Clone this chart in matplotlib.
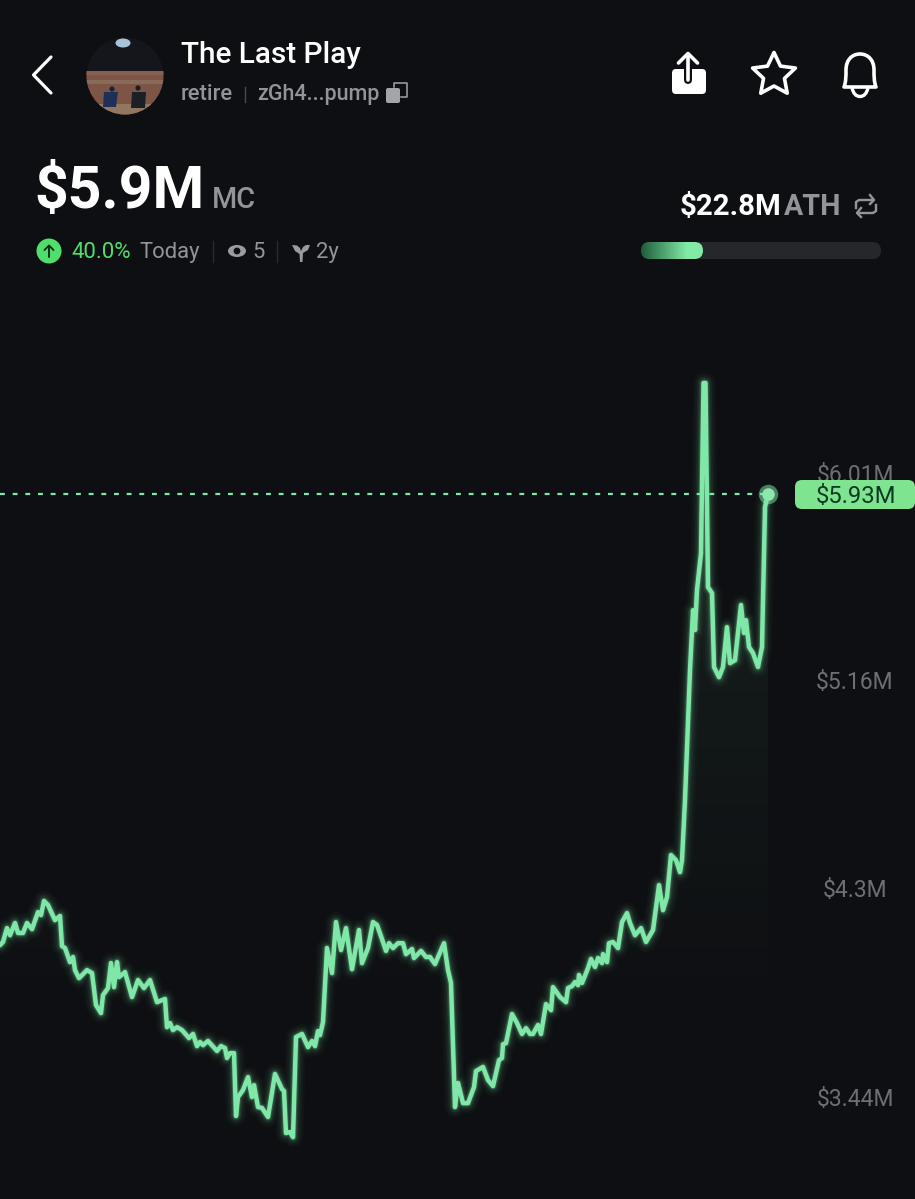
import numpy as np
import matplotlib
matplotlib.use("Agg")
import matplotlib.pyplot as plt
from matplotlib.patches import Circle, FancyBboxPatch, Rectangle, Ellipse, PathPatch, Polygon
from matplotlib.path import Path

plt.rcParams['font.family'] = ['Roboto', 'DejaVu Sans']

# ---------- data ----------
steps = [0,3,7,10,15,18,23,27,32,38,41,44,48,55,60,62,65,70,73,75,79,87,92,96,101,103,108,111,114,117,119,125,
         132,138,144,150,157,165,167,170,173,177,182,189,193,197,200,203,208,217,221,225,227,230,234,236,238,
         243,248,252,254,258,262,268,275,282,284,286,290,293,296,302,308,312,315,318,320,323,327,332,336,341,
         346,352,359,362,368,373,377,382,386,389,393,398,403,406,412,414,421,426,430,435,444,448,451,455,458,
         463,468,474,476,483,488,493,499,502,503,506,512,517,522,526,530,533,538,541,546,551,553,560,566,568,
         572,575,578,579,582,588,591,595,598,602,603,607,609,613,618,622,627,630,635,641,646,653,659,663,667,
         671,676,680,682,685,689,690,693,695,697,701,703.5,705.5,708,712,714,719,723,727,730,735,741,744,746,749,
         753,758,762,765,768]
market_cap = [4.066,4.079,4.136,4.107,4.157,4.116,4.116,4.157,4.132,4.202,4.190,4.248,4.231,4.169,4.186,4.062,
              4.054,3.996,4.017,3.963,3.930,3.963,3.951,3.819,3.786,3.860,3.889,3.992,3.893,3.996,3.934,3.955,
              3.852,3.922,3.889,3.922,3.831,3.844,3.728,3.745,3.716,3.728,3.716,3.683,3.700,3.650,3.667,3.654,
              3.671,3.630,3.650,3.642,3.601,3.621,3.621,3.362,3.440,3.469,3.522,3.440,3.489,3.399,3.395,3.358,
              3.535,3.473,3.465,3.292,3.296,3.275,3.687,3.700,3.646,3.671,3.650,3.712,3.695,3.749,4.054,3.951,
              4.161,4.046,4.136,3.967,4.128,3.992,4.054,4.161,4.149,4.091,4.042,4.074,4.054,4.074,4.074,4.029,
              4.050,4.013,4.042,4.017,4.017,3.988,4.074,3.963,3.910,3.399,3.498,3.415,3.415,3.481,3.547,3.564,
              3.510,3.485,3.592,3.601,3.658,3.662,3.782,3.745,3.700,3.724,3.700,3.700,3.737,3.700,3.823,3.798,
              3.893,3.852,3.831,3.889,3.897,3.914,3.901,3.943,3.910,3.971,4.009,3.976,4.013,3.992,4.029,3.996,
              4.074,4.079,4.054,4.161,4.198,4.157,4.107,4.136,4.079,4.128,4.313,4.210,4.264,4.437,4.416,4.367,
              4.416,4.664,5.084,5.199,5.446,5.364,5.529,5.681,6.382,6.382,5.541,5.516,5.212,5.170,5.212,5.376,
              5.228,5.240,5.467,5.352,5.405,5.294,5.269,5.212,5.294,5.871,5.925]
tick_values = [6.01, 5.16, 4.30, 3.44]
tick_labels = ["$6.01M", "$5.16M", "$4.3M", "$3.44M"]
current_value = 5.925
current_label = "$5.93M"

BG = '#0E0F12'
GREEN = '#7FE8A8'
GREY = '#93939A'
TICK = '#6E6E75'

fig = plt.figure(figsize=(9.15, 11.99), dpi=100, facecolor=BG)

# ---------- chart ----------
ax = fig.add_axes([0, 0, 1, 1], facecolor=BG)
ax.set_xlim(0, 915)
ax.set_ylim(3.020, 7.960)
for s in ax.spines.values():
    s.set_visible(False)
ax.set_xticks([])
ax.set_yticks(tick_values)
ax.set_yticklabels(tick_labels)
ax.tick_params(axis='y', length=0, pad=-855 * 0.72, labelsize=16.5, labelcolor=TICK)
for lab in ax.get_yticklabels():
    lab.set_ha('center')

grad = np.zeros((256, 2, 4))
grad[..., 0] = 0.5; grad[..., 1] = 0.91; grad[..., 2] = 0.66
grad[..., 3] = np.clip(np.linspace(0.09, 0.0, 256), 0, 1)[:, None]
im = ax.imshow(grad, extent=[0, 915, 3.7, 6.4], aspect='auto', origin='upper', zorder=1)
area = ax.fill_between(steps, market_cap, 3.02, color='none', lw=0)
im.set_clip_path(area.get_paths()[0], transform=ax.transData)
ax.set_xlim(0, 915)
ax.set_ylim(3.020, 7.960)

ax.plot([0, 768], [current_value] * 2, color=GREEN, lw=1.6, dashes=(2.2, 3.5), zorder=2)
for w, a in [(15, 0.025), (12, 0.04), (9, 0.06), (6.5, 0.11), (4.6, 0.2)]:
    ax.plot(steps, market_cap, color=GREEN, lw=w, alpha=a, solid_joinstyle='round',
            solid_capstyle='round', zorder=3)
ax.plot(steps, market_cap, color=GREEN, lw=3.2, solid_joinstyle='round', solid_capstyle='round', zorder=4)
ax.plot([steps[-1]], [market_cap[-1]], 'o', ms=14, color=GREEN, alpha=0.5, mew=0, zorder=5)
ax.plot([steps[-1]], [market_cap[-1]], 'o', ms=9, color='#8CE8AC', mew=0, zorder=6)

# ---------- interface chrome, in pixel coordinates ----------
ui = fig.add_axes([0, 0, 1, 1], facecolor='none')
ui.set_xlim(0, 915)
ui.set_ylim(1199, 0)
ui.axis('off')
PX = 0.72


def T(x, y, s, size, color='white', weight='normal', ha='left', **kw):
    return ui.text(x, y, s, fontsize=size, color=color, fontweight=weight, ha=ha, va='baseline', **kw)


# price badge
ui.add_patch(FancyBboxPatch((795, 480), 120, 29, boxstyle='round,pad=0,rounding_size=7', lw=0, fc='#7FE490', zorder=6))
T(856, 503, current_label, 17.2, color='#0B3B22', ha='center', zorder=7)

# back chevron
ui.plot([51, 33.5, 51], [57, 75, 93], color='white', lw=3.2 * PX, solid_capstyle='round', solid_joinstyle='round')

# avatar
clip = Circle((125, 76), 38.5, transform=ui.transData)
def clipped(p):
    ui.add_patch(p)
    p.set_clip_path(clip)
clipped(Rectangle((85, 36), 80, 36, fc='#15161B', lw=0))
clipped(Rectangle((85, 71), 80, 44, fc='#7D5546', lw=0))
clipped(Rectangle((85, 71), 80, 4, fc='#86604E', lw=0))
clipped(Rectangle((85, 80), 80, 4, fc='#8A6A58', lw=0))
clipped(Rectangle((85, 104), 80, 11, fc='#8F7762', lw=0))
clipped(Ellipse((123, 43), 15, 9, fc='#A9C3D9', lw=0))
clipped(Polygon([(104, 92), (118, 92), (116, 107), (103, 107)], closed=True, fc='#1F3058', lw=0))
clipped(Circle((112, 89), 2.6, fc='#1B2233', lw=0))
clipped(Polygon([(132, 92), (146, 92), (145, 108), (131, 108)], closed=True, fc='#1B2026', lw=0))
clipped(Circle((138, 88), 2.6, fc='#191C22', lw=0))

T(181, 63, "The Last Play", 21.4, weight='medium')
T(181, 100, "retire", 15.8, color=GREY, weight='medium')
ui.plot([245, 245], [87, 102], color='#4A4A4F', lw=1)
T(257, 100, "zGh4...pump", 15.5, color=GREY, weight='medium')
ui.add_patch(FancyBboxPatch((386, 88), 14, 15, boxstyle='round,pad=0,rounding_size=2', fc='#A4A4AA', lw=0))
ui.plot([394, 394, 406.5, 406.5, 401], [87, 83, 83, 97, 97], color='#A4A4AA', lw=1.1, solid_joinstyle='round')

# top-right icons
ui.add_patch(FancyBboxPatch((672, 69), 34, 25, boxstyle='round,pad=0,rounding_size=4', fc='white', lw=0))
ui.plot([688, 688], [60, 80], color=BG, lw=8 * PX, solid_capstyle='round')
ui.plot([688, 688], [55, 80], color='white', lw=3.6 * PX, solid_capstyle='round')
ui.plot([678.5, 688, 697.5], [63, 53.5, 63], color='white', lw=3.6 * PX, solid_capstyle='round', solid_joinstyle='round')

ang = np.deg2rad(np.arange(10) * 36 - 90)
rad = np.where(np.arange(10) % 2 == 0, 22.5, 11.0)
ui.add_patch(Polygon(np.c_[774 + rad * np.cos(ang), 75 + rad * np.sin(ang)], closed=True, fc='none', ec='white',
                     lw=3.6 * PX, joinstyle='round'))

bell = Path([(844, 87), (846, 82), (846, 76), (846, 70), (846, 60), (852, 54), (860, 54), (868, 54), (874, 60),
             (874, 70), (874, 76), (874, 82), (876, 87), (844, 87)],
            [Path.MOVETO, Path.CURVE4, Path.CURVE4, Path.CURVE4, Path.CURVE4, Path.CURVE4, Path.CURVE4,
             Path.CURVE4, Path.CURVE4, Path.CURVE4, Path.CURVE4, Path.CURVE4, Path.CURVE4, Path.CLOSEPOLY])
ui.add_patch(PathPatch(bell, fc='none', ec='white', lw=3.6 * PX, joinstyle='round'))
ui.add_patch(PathPatch(Path([(852, 88), (854, 96.5), (860, 96.5), (866, 96.5), (868, 88)],
                            [Path.MOVETO, Path.CURVE3, Path.CURVE3, Path.CURVE3, Path.CURVE3]),
                       fc='none', ec='white', lw=3.4 * PX))

# headline
T(34, 208, "$5.9M", 42.5, weight='bold')
T(212, 208, "MC", 20.8, color=GREY, weight='medium')

ui.add_patch(Circle((49, 251), 12.5, fc='#4FDE6B', lw=0))
ui.plot([49, 49], [257, 246], color='#0C2A14', lw=1.9 * PX, solid_capstyle='round')
ui.plot([44.5, 49, 53.5], [250, 245.5, 250], color='#0C2A14', lw=1.9 * PX, solid_capstyle='round', solid_joinstyle='round')
T(71.5, 258, "40.0%", 16, color='#4FDE6B')
T(140, 258, "Today", 15.8, color=GREY)
ui.plot([213, 213], [241, 262], color='#2A2A2E', lw=1)
ui.add_patch(Ellipse((237, 251), 18, 12, fc='#9A9AA0', lw=0))
ui.add_patch(Circle((237, 251), 3.4, fc=BG, lw=0))
T(252, 258, "5", 15.8, color=GREY)
ui.plot([277, 277], [241, 262], color='#2A2A2E', lw=1)
ui.add_patch(Polygon([(292, 245), (297, 245.5), (300, 248), (301, 251), (303, 247), (306, 245), (310, 245), (308, 250),
                      (303, 253), (302.5, 262), (300, 262), (299.5, 254), (295, 251)], closed=True, fc='#9A9AA0', lw=0))
T(316, 258, "2y", 15.8, color=GREY)

# ATH block
T(680, 215, "$22.8M", 21.2, weight='bold')
T(784, 215, "ATH", 20.6, color=GREY, weight='bold')
ui.plot([873, 859, 856, 856], [200, 200, 202, 208], color=GREY, lw=2.4 * PX, solid_joinstyle='round')
ui.plot([870, 874, 870], [195, 200, 204], color=GREY, lw=2.4 * PX, solid_joinstyle='round')
ui.plot([858, 873, 876, 876], [213, 213, 211, 205], color=GREY, lw=2.4 * PX, solid_joinstyle='round')
ui.plot([861, 857, 861], [208, 213, 217], color=GREY, lw=2.4 * PX, solid_joinstyle='round')

ui.add_patch(FancyBboxPatch((641, 242), 240, 17, boxstyle='round,pad=0,rounding_size=8.5', fc='#25272A', lw=0))
bar_clip = FancyBboxPatch((641, 242), 62, 17, boxstyle='round,pad=0,rounding_size=8.5', fc='none', lw=0,
                          transform=ui.transData)
ui.add_patch(bar_clip)
t = np.linspace(0, 1, 128)[None, :]
c0, c1 = np.array([0x1E, 0x5C, 0x3A]) / 255, np.array([0x82, 0xEA, 0xA6]) / 255
bar = np.dstack([c0[i] + (c1[i] - c0[i]) * np.clip(t * 1.35, 0, 1) for i in range(3)])
bar_im = ui.imshow(bar, extent=[641, 703, 259, 242], aspect='auto', zorder=3)
bar_im.set_clip_path(bar_clip)
ui.set_xlim(0, 915)
ui.set_ylim(1199, 0)

fig.savefig('out.png', dpi=100, facecolor=BG)
